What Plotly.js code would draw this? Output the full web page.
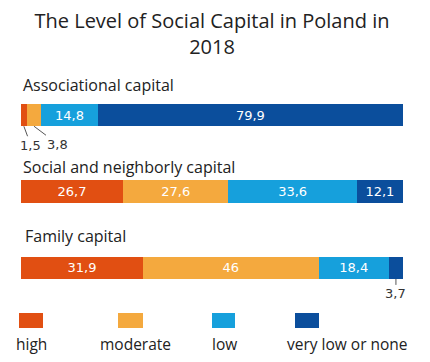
<!DOCTYPE html>
<html>
<head>
<meta charset="utf-8">
<script src="https://cdn.plot.ly/plotly-3.0.1.min.js"></script>
<style>html,body{margin:0;padding:0;background:#fff;}#chart{width:430px;height:362px;}</style>
</head>
<body>
<div id="chart"></div>
<script>
const categories = ["Associational capital", "Social and neighborly capital", "Family capital"];
const levels = ["high", "moderate", "low", "very low or none"];
const high = [1.5, 26.7, 31.9];
const moderate = [3.8, 27.6, 46];
const low = [14.8, 33.6, 18.4];
const veryLow = [79.9, 12.1, 3.7];
const colors = ["#E14F12", "#F4A93E", "#16A0DC", "#0B4E9C"];

const series = [high, moderate, low, veryLow];
const W = 430, H = 362;
const L = 21, R = 27, T = 77, B = 56;
const fmt = v => String(v).replace('.', ',');
const yIdx = [0, 1, 2];

const traces = series.map((vals, si) => ({
  type: 'bar',
  orientation: 'h',
  name: levels[si],
  y: yIdx,
  x: vals,
  width: 0.29,
  marker: {color: colors[si], line: {width: 0}},
  text: vals.map(v => v < 5 ? '' : fmt(v)),
  textposition: 'inside',
  insidetextanchor: 'middle',
  textfont: {family: 'DejaVu Sans', size: 13, color: '#ffffff'},
  hoverinfo: 'skip',
  showlegend: false
}));

const px2x = px => (px - L) / (W - L - R);
const py2y = py => (H - B - py) / (H - T - B);

const annotations = [];
const labelY = [85, 167, 236];
const labelX = [21, 21, 23];
categories.forEach((c, i) => {
  annotations.push({
    text: c, xref: 'paper', yref: 'paper', x: px2x(labelX[i]), y: py2y(labelY[i]),
    xanchor: 'left', yanchor: 'middle', showarrow: false,
    font: {family: 'Open Sans', size: 16, color: '#222'}
  });
});
// small value callouts
const small = [
  {v: high[0], x: high[0] / 2, y: 0, ax: 7, ay: 19},
  {v: moderate[0], x: high[0] + moderate[0] / 2, y: 0, ax: 24, ay: 18},
  {v: veryLow[2], x: high[2] + moderate[2] + low[2] + veryLow[2] / 2, y: 2, ax: 0, ay: 15}
];
small.forEach(s => {
  annotations.push({
    text: fmt(s.v), x: s.x, y: s.y + 0.145, xref: 'x', yref: 'y',
    showarrow: true, arrowhead: 0, arrowwidth: 1, arrowcolor: '#555',
    ax: s.ax, ay: s.ay, standoff: 0,
    font: {family: 'DejaVu Sans', size: 13, color: '#333'}
  });
});
// legend
const shapes = [];
const sq = [[19, 43], [118, 143], [212, 235], [295, 319]];
const legLabelX = [31, 135, 224, 347];
levels.forEach((lv, i) => {
  shapes.push({
    type: 'rect', xref: 'paper', yref: 'paper',
    x0: px2x(sq[i][0]), x1: px2x(sq[i][1]), y0: py2y(328), y1: py2y(313),
    fillcolor: colors[i], line: {width: 0}
  });
  annotations.push({
    text: lv, xref: 'paper', yref: 'paper', x: px2x(legLabelX[i]), y: py2y(344),
    xanchor: 'center', yanchor: 'middle', showarrow: false,
    font: {family: 'Open Sans', size: 15.5, color: '#222'}
  });
});

const layout = {
  width: W, height: H,
  margin: {l: L, r: R, t: T, b: B, pad: 0},
  paper_bgcolor: '#fff', plot_bgcolor: '#fff',
  separators: ', ',
  barmode: 'stack',
  title: {
    text: 'The Level of Social Capital in Poland in<br>2018',
    font: {family: 'Open Sans', size: 20, color: '#222'},
    x: 0.5, xanchor: 'center', xref: 'paper', yref: 'container', y: 0.9215, yanchor: 'top'
  },
  xaxis: {range: [0, 100], showgrid: false, zeroline: false, showticklabels: false, showline: false, fixedrange: true},
  yaxis: {range: [2.5, -0.5], showgrid: false, zeroline: false, showticklabels: false, showline: false, fixedrange: true},
  showlegend: false,
  annotations: annotations,
  shapes: shapes
};

Plotly.newPlot('chart', traces, layout, {displayModeBar: false, staticPlot: true});
</script>
</body>
</html>
